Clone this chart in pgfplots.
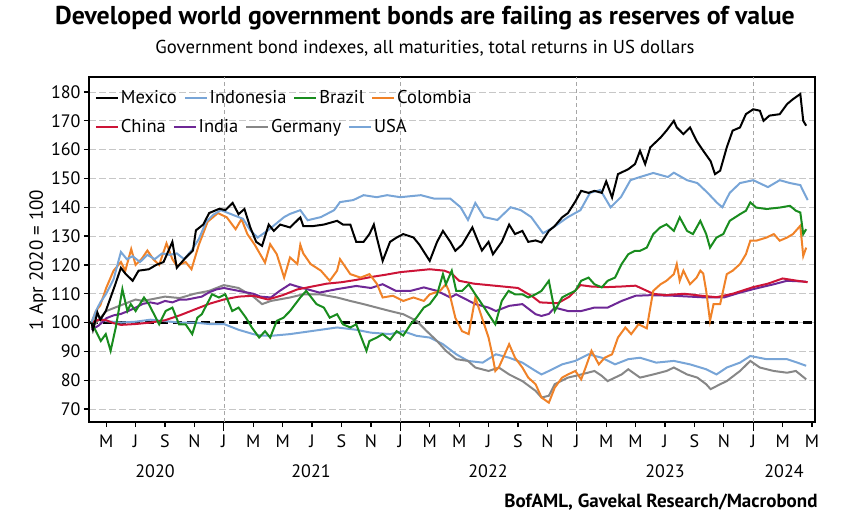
\documentclass[border=0pt]{standalone}
\usepackage{fontspec}
\setmainfont{PT Sans}
\usepackage{pgfplots}
\pgfplotsset{compat=1.18}
\definecolor{cmex}{RGB}{0,0,0}
\definecolor{cind}{RGB}{120,165,215}
\definecolor{cbra}{RGB}{25,140,30}
\definecolor{ccol}{RGB}{240,130,40}
\definecolor{cchi}{RGB}{205,20,55}
\definecolor{cinda}{RGB}{110,40,150}
\definecolor{cger}{RGB}{135,135,135}
\begin{document}
\begin{tikzpicture}[x=1pt,y=1pt]
\useasboundingbox (0,0) rectangle (848,523);
\node[font=\bfseries\fontsize{25.8}{25.8}\selectfont] at (425,505) {Developed world government bonds are failing as reserves of value};
\node[font=\fontsize{18.7}{18.7}\selectfont] at (425,475) {Government bond indexes, all maturities, total returns in US dollars};
\node[rotate=90,font=\fontsize{19}{19}\selectfont] at (38,263) {1 Apr 2020 = 100};
\begin{axis}[
  at={(89pt,101pt)}, anchor=south west, scale only axis,
  width=726pt, height=345pt,
  xmin=2.83, xmax=52.2, ymin=65.5, ymax=185.2,
  clip mode=individual,
  axis line style={line width=1.4pt},
  tick style={black, line width=1.2pt},
  tick align=outside, tick pos=left,
  major tick length=5pt,
  xtick={4,6,...,52},
  xticklabels={M,J,S,N,J,M,M,J,S,N,J,M,M,J,S,N,J,M,M,J,S,N,J,M,M},
  xticklabel style={font=\fontsize{18}{18}\selectfont, yshift=-4pt},
  extra x ticks={12,24,36,48}, extra x tick labels={},
  extra x tick style={major tick length=9pt, grid=major,
     major grid style={gray!70, line width=0.7pt, dash pattern=on 4pt off 3pt}},
  ytick={70,80,...,180},
  yticklabel style={font=\fontsize{18}{18}\selectfont, /pgf/number format/assume math mode=true},
  ymajorgrids,
  major grid style={black!22, line width=0.9pt, dash pattern=on 7pt off 3pt},
  legend image code/.code={\draw[#1, line width=1.9pt] (0pt,0pt) -- (22pt,0pt);},
  legend style={draw=none, fill=none, inner sep=0pt, at={(0.008,0.939)}, anchor=west,
     font=\fontsize{18.5}{18.5}\selectfont, nodes={inner sep=2pt},
     /tikz/every even column/.append style={column sep=5pt}},
  legend columns=-1,
]
\addlegendimage{cmex}\addlegendentry{Mexico}
\addlegendimage{cind}\addlegendentry{Indonesia}
\addlegendimage{cbra}\addlegendentry{Brazil}
\addlegendimage{ccol}\addlegendentry{Colombia}
\addplot[forget plot, black, line width=2.2pt, dash pattern=on 9pt off 5pt] coordinates {(2.83,100) (52.2,100)};
% USA
\addplot[forget plot, cind, line width=2pt] coordinates {
(3,100) (3.3,103) (3.6,101.5) (4,100.5) (5,100) (6,100.3) (7,101) (8,100.5) (9,100) (10,100) (11,99.5) (12,99.5) (12.5,98.5) (13,97.5) (14,96) (14.5,95.5) (15.2,95.4) (16.5,96) (17.9,97) (19.7,98.3) (21,97.5) (22,96.5) (23.3,96) (24.2,97) (25.1,95.4) (26,94.8) (26.9,92.5) (27.8,89) (28.6,86.7) (29.6,86.1) (30.5,89) (31.4,87.8) (32.3,86.1) (33.2,83.2) (33.6,82) (34.1,83.2) (35.0,85.5) (35.9,86.7) (36.8,89) (37.7,87.8) (38.6,85.5) (39.5,87.3) (40.3,87.8) (41.4,86.1) (42.6,86.7) (43.7,85.5) (44.8,83.8) (45.5,82) (46.2,84.4) (47.1,86.1) (47.8,88.4) (48.9,87.3) (50.3,87.3) (51.0,86.1) (51.6,85)};
% Germany
\addplot[forget plot, cger, line width=2pt] coordinates {
(3,98) (3.5,101) (4,104) (4.5,105) (5,106) (6,108) (6.5,107.5) (7,108) (8,109) (9,108.5) (10,110) (11,111) (12,113) (12.5,112.5) (13,112) (13.5,110.5) (14,109) (14.6,106.4) (15.2,107.5) (16.5,108.7) (17.4,109.8) (18.5,109.8) (19.7,108.7) (20.6,107.5) (21.5,106.4) (22.4,105.2) (23.3,104) (24.2,102.9) (25.1,100.6) (25.8,97) (26.5,93.6) (27.1,90.2) (27.8,87.3) (28.6,86.7) (29.1,84.4) (30,83.2) (30.7,84.4) (31.4,82) (32.3,79.7) (33.2,76.3) (33.6,74) (34.1,74.6) (34.5,78.6) (35.4,80.9) (36.3,82) (37.2,83.2) (37.7,81.5) (38.1,79.7) (39.05,82) (39.5,83.8) (40.3,80.9) (41.2,82) (42.1,83.2) (42.6,84.4) (43.5,82) (44.2,80.9) (44.8,78.6) (45.1,76.9) (45.75,78.6) (46.2,79.7) (47.1,83.2) (47.8,86.7) (48.45,84.4) (49.4,83.2) (50.3,82.6) (50.9,83.2) (51.6,80.3)};
% India
\addplot[forget plot, cinda, line width=2pt] coordinates {
(3,97.5) (3.5,99) (4,101.5) (4.5,102.5) (5,103) (5.5,104) (6,105.2) (6.5,106.5) (7,107) (7.5,106.5) (8,107.5) (8.5,107) (9,108) (9.5,108) (10,108.5) (10.5,109) (11,110.5) (11.5,111.5) (12,112) (12.5,111.5) (13,111) (13.5,110.5) (14,110) (14.5,109) (15.2,108.7) (15.8,111) (16.5,113.3) (17,112.5) (18.5,110.4) (19.7,111.6) (21,112.7) (22,112) (22.8,113.3) (23.7,111) (24.7,111) (25.6,112.2) (26.5,111) (27.4,108.7) (27.8,109.8) (29.1,106.4) (30,105.2) (30.5,104) (31.4,105.8) (32.3,106.4) (33.2,102.9) (33.6,102.3) (34.1,103) (34.5,105.2) (35.4,104) (36.3,104) (37.2,105.2) (38.1,105.2) (39.05,107.5) (40,109.3) (41,109.5) (42.6,109.3) (44.8,108.7) (46,108.7) (47.1,110.4) (48,111.6) (49.4,113.3) (50.3,114.5) (51.6,114.2)};
% China
\addplot[forget plot, cchi, line width=2pt] coordinates {
(3,100) (3.5,101) (4,100.8) (4.5,99.8) (5,99.2) (6,99.5) (7,100) (8,100.8) (9,102.5) (10,104.5) (11,106.5) (12,108) (13,109) (14,109.3) (15,108) (16,109.5) (17,111.5) (18,112.5) (19,113.5) (20,114) (21,114.8) (22,115.8) (23,116.6) (24,117.5) (25,118) (26,118.5) (27,118) (27.5,117) (28,114.5) (29,113.5) (30,113) (31,112.5) (32,112) (33,109) (33.5,107) (34.7,106.7) (35.5,109) (36.25,113) (37,112.5) (38,112.3) (39,112.5) (40,112.8) (41.2,110) (42,109.5) (43.3,110) (44.5,109.3) (45.5,108.8) (46.6,110) (48,112.3) (49,113.5) (50,115.3) (51,114.5) (51.7,114)};
% Colombia
\addplot[forget plot, ccol, line width=2pt] coordinates {
(3.0,100) (3.3,104) (3.6,106) (4.0,112) (4.5,118) (5.0,121) (5.3,118) (5.7,125.5) (6.0,120) (6.4,122) (6.8,125) (7.2,122) (7.6,120) (8.1,127.5) (8.5,122) (8.8,119.7) (9.4,121) (9.8,118.5) (10.3,127) (10.9,135) (11.6,138) (12.2,136.5) (12.8,132.4) (13.2,135.9) (13.6,130.7) (14.1,127) (14.8,120.8) (15.15,127.2) (15.6,123.7) (16.1,115.6) (16.5,122.6) (17.0,120.3) (17.2,127) (17.4,124) (17.9,120.3) (18.6,118) (19.2,114.5) (19.7,118) (19.9,122) (20.6,116.8) (21.3,115.6) (21.9,116.8) (22.4,113.5) (22.8,108.7) (23.5,109.3) (24.2,107.5) (24.9,108.7) (25.6,107.5) (26.0,109.8) (26.7,111) (27.1,113.3) (27.3,111) (27.74,101.7) (28.2,97) (28.65,96) (29.1,108.7) (29.55,101.7) (30.0,94.8) (30.25,89) (30.46,83.2) (30.7,84.5) (31.1,89) (31.4,92.5) (31.8,87.8) (32.3,84.4) (32.7,80.9) (33.2,78.6) (33.6,74) (34.1,72.2) (34.5,77.4) (35.0,80.9) (35.4,82) (35.9,83.2) (36.3,80.3) (36.6,84.4) (37.0,90.2) (37.5,85.5) (37.9,87.8) (38.4,89) (38.8,94.8) (39.3,98.3) (39.7,96) (40.2,99.4) (40.76,98) (41.0,105.2) (41.2,111) (41.7,113.3) (42.1,114.5) (42.6,116.8) (42.8,120.3) (43.0,114.5) (43.25,118) (43.7,113.3) (44.15,115.6) (44.4,118) (44.6,117) (44.8,111) (45.06,100.6) (45.3,106.4) (45.75,106.4) (46.2,116.8) (46.6,118) (47.1,120.3) (47.5,123.7) (47.8,128.4) (48.2,128.4) (48.9,129.5) (49.4,130.7) (49.8,128.4) (50.3,129.5) (50.7,130.7) (51.2,133.6) (51.4,123.1) (51.6,126)};
% Brazil
\addplot[forget plot, cbra, line width=2pt] coordinates {
(3.0,100) (3.3,97) (3.63,93.6) (3.97,96) (4.3,90.2) (4.65,98.3) (5.1,111.6) (5.44,104) (5.67,106.4) (6.0,104) (6.57,108.7) (6.9,106.4) (7.14,104) (7.6,99.4) (8.04,104) (8.5,105.2) (8.95,99.4) (9.4,99.4) (9.85,96) (10.2,101.7) (10.5,102.9) (11.2,109.8) (11.66,108.7) (12.1,109.8) (12.57,104) (13.0,105.2) (13.5,101.7) (13.9,98.3) (14.4,94.8) (14.8,97) (15.15,94.8) (15.6,100.6) (16.06,101.7) (16.5,104) (17.2,108.7) (17.6,111) (18.3,106.4) (18.8,105.2) (19.2,101.7) (19.7,102.9) (20.1,99.4) (20.6,98.3) (21.0,99.4) (21.7,90.2) (21.9,93.6) (22.4,94.8) (22.8,96) (23.3,94) (23.75,97) (24.2,95.5) (24.7,99.4) (25.1,101.7) (25.6,105.2) (26.0,106.4) (26.5,109.8) (26.9,116.8) (27.1,113.3) (27.5,118) (27.8,111) (28.2,111) (28.65,113.3) (29.1,109.8) (29.55,106.4) (30.0,102.9) (30.46,99.4) (30.9,107.5) (31.36,111) (31.8,109.8) (32.3,109.8) (32.7,108.7) (33.2,109.8) (33.6,111) (34.1,114.5) (34.5,104) (35.0,108.7) (35.4,109.8) (35.9,111) (36.3,114.5) (36.8,115.6) (37.2,113.3) (37.7,112.2) (38.1,114.5) (38.6,115.6) (39.05,120.3) (39.5,123.7) (39.96,124.9) (40.3,124.9) (40.76,126) (41.2,130.7) (41.67,133) (42.1,134.1) (42.6,131.8) (43.0,136.5) (43.5,131.8) (43.9,130.7) (44.4,135.3) (44.8,130.7) (45.06,126) (45.5,129.5) (45.96,130.7) (46.4,135.3) (47.1,137.6) (47.5,138.8) (47.8,141.7) (48.2,139.9) (48.9,139.4) (49.8,139.9) (50.5,140.5) (50.9,138.8) (51.2,138.2) (51.4,130.7) (51.6,132.4)};
% Indonesia
\addplot[forget plot, cind, line width=2pt] coordinates {
(3.0,100) (3.3,104) (3.6,107) (4.0,110) (4.5,115) (5.0,124.5) (5.4,122) (5.8,123) (6.3,121) (6.8,123.5) (7.3,122) (7.8,124) (8.3,123.5) (8.8,124) (9.3,122) (9.8,125) (10.3,129) (10.8,135) (11.3,137.5) (11.8,139) (12.3,138) (12.8,137) (13.3,136) (13.8,132) (14.3,129.5) (15,132) (16.1,136.6) (16.5,137.7) (17.2,139) (17.7,135.5) (18.6,136.6) (19.5,139) (19.9,141.8) (20.8,142.5) (21.5,144.2) (22.4,143.5) (23.1,144.2) (24,143.5) (25.4,144.2) (26.3,143) (27.4,143) (28.1,140) (28.6,135.6) (29.1,141.5) (29.7,136.6) (30.6,135.6) (31.5,140) (32.2,139) (32.9,136.6) (33.7,131) (34.4,133) (35.4,136.6) (36.25,139) (36.9,145) (37.6,146) (38.3,140) (39,143.5) (39.65,149.4) (40.3,150.5) (41.2,151.9) (42.2,150.5) (42.6,152) (43.5,149.4) (44.2,148.4) (44.9,145) (45.55,141.5) (45.9,140) (46.4,145) (47.1,148.4) (48,149.4) (49,147) (49.8,149.4) (50.5,148.4) (51.2,147.7) (51.7,142.5)};
% Mexico
\addplot[forget plot, cmex, line width=2pt] coordinates {
(3.0,100) (3.1,97.5) (3.4,103.5) (3.6,101) (3.97,104) (4.6,113) (5.0,119) (5.3,117) (5.8,114.5) (6.2,118) (6.9,118.5) (7.4,120) (7.9,121) (8.5,128) (8.8,119) (9.4,122.5) (9.9,125) (10.1,132) (10.6,134) (11.0,138) (11.7,139.5) (12.1,139) (12.6,141.5) (13.0,137.6) (13.4,139.4) (13.8,133) (14.2,128) (14.6,126.6) (15.05,134) (15.4,131.8) (15.83,134) (16.5,133) (17.2,136.5) (17.4,133.5) (18.1,133.5) (18.8,134) (19.7,135.3) (20.1,134) (20.6,134) (21.0,128) (21.5,128) (21.9,130.7) (22.2,134) (22.4,129.5) (22.8,121.4) (23.3,128) (23.75,129.5) (24.2,130.7) (24.9,129.5) (25.3,127) (26.0,121.4) (26.5,128) (26.9,131.8) (27.4,128) (27.74,124.9) (28.2,127) (28.9,133) (29.3,128) (29.55,125) (30.0,128) (30.3,123.7) (30.9,128) (31.4,134) (31.8,130.7) (32.3,131.8) (32.7,128) (33.2,128.5) (33.6,127.8) (34.1,131.8) (34.5,133.5) (35.0,136.5) (35.4,138) (35.9,142) (36.3,145.7) (36.8,145) (37.2,145.7) (37.7,145) (38.0,149) (38.4,143.4) (38.8,151.5) (39.5,153.2) (39.96,155) (40.3,159.6) (40.65,155) (41.0,160.8) (41.7,164.2) (42.1,166.6) (42.6,170) (42.8,167.7) (43.25,165.4) (43.7,167.7) (44.15,163) (44.6,159.6) (45.1,156) (45.4,151.5) (45.75,152.7) (46.2,160.8) (46.6,166.6) (47.1,167.7) (47.5,172.3) (48.0,174) (48.45,173.5) (48.7,170) (49.1,171.8) (49.8,172.3) (50.3,175.8) (50.7,177.5) (51.2,179.3) (51.4,170) (51.6,168.3)};
\end{axis}
\begin{axis}[
  at={(89pt,101pt)}, anchor=south west, scale only axis,
  width=726pt, height=345pt,
  xmin=2.83, xmax=52.2, ymin=65.5, ymax=185.2, hide axis,
  legend image code/.code={\draw[#1, line width=1.9pt] (0pt,0pt) -- (22pt,0pt);},
  legend style={draw=none, fill=none, inner sep=0pt, at={(0.008,0.855)}, anchor=west,
     font=\fontsize{18.5}{18.5}\selectfont, nodes={inner sep=2pt},
     /tikz/every even column/.append style={column sep=5pt}},
  legend columns=-1,
]
\addlegendimage{cchi}\addlegendentry{China}
\addlegendimage{cinda}\addlegendentry{India}
\addlegendimage{cger}\addlegendentry{Germany}
\addlegendimage{cind}\addlegendentry{USA}
\end{axis}
\node[font=\fontsize{18}{18}\selectfont] at (155,52) {2020};
\node[font=\fontsize{18}{18}\selectfont] at (311,52) {2021};
\node[font=\fontsize{18}{18}\selectfont] at (488,52) {2022};
\node[font=\fontsize{18}{18}\selectfont] at (665,52) {2023};
\node[font=\fontsize{18}{18}\selectfont] at (784,52) {2024};
\node[anchor=east, font=\bfseries\fontsize{19}{19}\selectfont] at (821,21) {BofAML, Gavekal Research/Macrobond};
\end{tikzpicture}
\end{document}
